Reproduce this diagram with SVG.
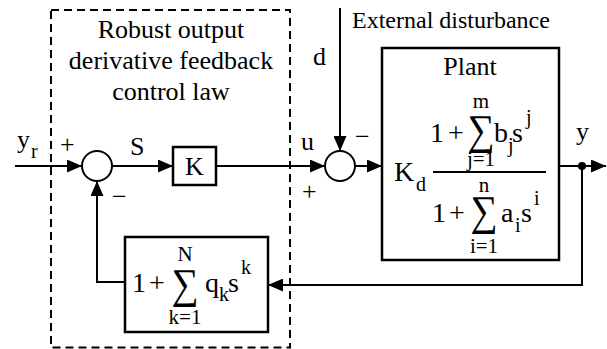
<svg xmlns="http://www.w3.org/2000/svg" width="607" height="349" viewBox="0 0 607 349" font-family="'Liberation Serif', 'Times New Roman', serif">
<style>
.t{font-size:26px}
.e{font-size:24px}
.m{font-size:28px}
.s{font-size:20px}
.l{font-size:21px}
.sig{font-size:40px}
.c{text-anchor:middle}
.ln{fill:none;stroke:#000;stroke-width:2}
.bx{fill:#fff;stroke:#000;stroke-width:2.5}
.dash{fill:none;stroke:#000;stroke-width:2;stroke-dasharray:8 5}
</style>
<defs>
<marker id="ah" markerUnits="userSpaceOnUse" markerWidth="16" markerHeight="13" refX="15" refY="6.5" orient="auto">
<path d="M0,0 L15,6.5 L0,13 z" fill="#000"/>
</marker>
</defs>
<g id="controller-boundary">
<rect class="dash" x="51" y="10" width="239" height="337.5"/>
<text class="t c" x="171" y="38">Robust output</text>
<text class="t c" x="171" y="69">derivative feedback</text>
<text class="t c" x="171" y="100">control law</text>
</g>
<g id="connectors">
<path class="ln" d="M15,166 H82" marker-end="url(#ah)"/>
<path class="ln" d="M112,166 H173" marker-end="url(#ah)"/>
<path class="ln" d="M216,166 H325" marker-end="url(#ah)"/>
<path class="ln" d="M340,8 V151" marker-end="url(#ah)"/>
<path class="ln" d="M355,166 H382" marker-end="url(#ah)"/>
<path class="ln" d="M559,166 H606" marker-end="url(#ah)"/>
<path class="ln" d="M582,166 V285 H268" marker-end="url(#ah)"/>
<path class="ln" d="M125,282 H97 V181" marker-end="url(#ah)"/>
<circle cx="582" cy="166" r="4" fill="#000"/>
<text class="t" x="17" y="148">y</text>
<text class="s" x="31" y="158">r</text>
<text class="t" x="60" y="153">+</text>
<text class="t" x="112" y="205">−</text>
<text class="t" x="130" y="155">S</text>
<text class="t" x="301" y="150">u</text>
<text class="t" x="302" y="200">+</text>
<text class="t" x="355" y="145">−</text>
<text class="t" x="313" y="65">d</text>
<text class="e" x="352" y="28">External disturbance</text>
<text class="t" x="576" y="140">y</text>
</g>
<g id="sum1">
<circle cx="97" cy="166" r="15" fill="#fff" stroke="#000" stroke-width="2"/>
</g>
<g id="sum2">
<circle cx="340" cy="166" r="15" fill="#fff" stroke="#000" stroke-width="2"/>
</g>
<g id="gain-K">
<rect class="bx" x="173" y="147" width="43" height="38"/>
<text class="t c" x="194.5" y="175">K</text>
</g>
<g id="plant">
<rect class="bx" x="382" y="48" width="177" height="212"/>
<text class="t c" x="470" y="75">Plant</text>
<text class="m" x="430" y="142">1</text>
<text class="m" x="448" y="142">+</text>
<text class="sig c" transform="translate(481,144) scale(0.95,1.05)">∑</text>
<text class="l c" x="481" y="108">m</text>
<text class="l c" x="481" y="166">j=1</text>
<text class="m" x="494" y="142">b</text>
<text class="s" x="508" y="152">j</text>
<text class="m" x="512" y="142">s</text>
<text class="s" x="526" y="124">j</text>
<line x1="433" y1="172" x2="546" y2="172" stroke="#000" stroke-width="2"/>
<text class="m" x="394" y="181">K</text>
<text class="s" x="416" y="191">d</text>
<text class="m" x="432" y="222">1</text>
<text class="m" x="449" y="222">+</text>
<text class="sig c" transform="translate(484,225) scale(0.95,1.05)">∑</text>
<text class="l c" x="484" y="192">n</text>
<text class="l c" x="484" y="253">i=1</text>
<text class="m" x="501" y="222">a</text>
<text class="s" x="515" y="232">i</text>
<text class="m" x="521" y="222">s</text>
<text class="s" x="534" y="205">i</text>
</g>
<g id="feedback-filter">
<rect class="bx" x="125" y="237" width="143" height="95"/>
<text class="m" x="132" y="292">1</text>
<text class="m" x="149" y="292">+</text>
<text class="sig c" transform="translate(185,298) scale(0.95,1.05)">∑</text>
<text class="l c" x="185" y="261">N</text>
<text class="l c" x="185" y="324">k=1</text>
<text class="m" x="205" y="292">q</text>
<text class="s" x="219" y="301">k</text>
<text class="m" x="228" y="292">s</text>
<text class="s" x="241" y="274">k</text>
</g>
</svg>
